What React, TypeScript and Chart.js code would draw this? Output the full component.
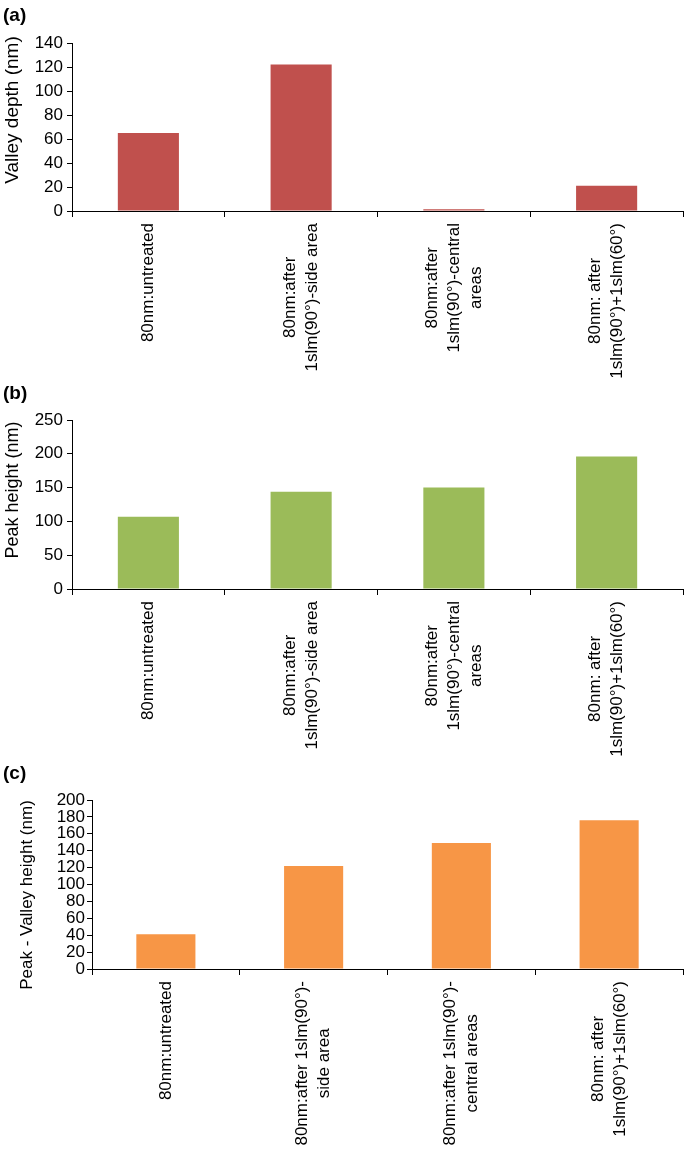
import React, { useEffect, useRef } from "react";
import { Chart, registerables } from "chart.js";

Chart.register(...registerables);

const labelsAB: (string | string[])[] = [
  "80nm:untreated",
  ["80nm:after", "1slm(90°)-side area"],
  ["80nm:after", "1slm(90°)-central", "areas"],
  ["80nm: after", "1slm(90°)+1slm(60°)"],
];
const labelsC: (string | string[])[] = [
  "80nm:untreated",
  ["80nm:after 1slm(90°)-", "side area"],
  ["80nm:after 1slm(90°)-", "central areas"],
  ["80nm: after", "1slm(90°)+1slm(60°)"],
];

const valleyDepth = [65, 122, 1.5, 21];
const peakHeight = [107, 144, 150, 196];
const peakValley = [41, 122, 149, 176];

const FONT = "'Liberation Sans', Arial, sans-serif";

type PanelCfg = {
  tag: string;
  labels: (string | string[])[];
  values: number[];
  color: string;
  yTitle: string;
  yTitleSize: number;
  yTitleX: number;
  yTitleY: number;
  yMax: number;
  yStep: number;
  top: number;
  height: number;
  padTop: number;
  axisLeft: number;
  xAxisHeight: number;
  tickPad: number;
  tickSize: number;
};

const panels: PanelCfg[] = [
  {
    tag: "(a)", labels: labelsAB, values: valleyDepth, color: "#C0504D",
    yTitle: "Valley depth (nm)", yTitleSize: 19, yTitleX: 13, yTitleY: 110, yMax: 140, yStep: 20,
    top: 0, height: 378, padTop: 43, axisLeft: 72, xAxisHeight: 167, tickPad: 4, tickSize: 17,
  },
  {
    tag: "(b)", labels: labelsAB, values: peakHeight, color: "#9BBB59",
    yTitle: "Peak height (nm)", yTitleSize: 18, yTitleX: 13, yTitleY: 112, yMax: 250, yStep: 50,
    top: 378, height: 380, padTop: 42, axisLeft: 72, xAxisHeight: 169, tickPad: 4, tickSize: 17,
  },
  {
    tag: "(c)", labels: labelsC, values: peakValley, color: "#F79646",
    yTitle: "Peak - Valley height (nm)", yTitleSize: 17, yTitleX: 27, yTitleY: 137, yMax: 200, yStep: 20,
    top: 758, height: 391, padTop: 42, axisLeft: 92, xAxisHeight: 180, tickPad: 2, tickSize: 17,
  },
];

const LINE_H = 22;
const LABEL_FONT = `17px ${FONT}`;

function Panel({ cfg }: { cfg: PanelCfg }) {
  const ref = useRef<HTMLCanvasElement | null>(null);
  useEffect(() => {
    if (!ref.current) return;
    const labelPlugin = {
      id: "customText",
      afterDraw(chart: any) {
        const ctx = chart.ctx as CanvasRenderingContext2D;
        const xs = chart.scales.x;
        ctx.save();
        ctx.fillStyle = "#000";
        // panel tag
        ctx.font = `bold 19px ${FONT}`;
        ctx.textAlign = "left";
        ctx.textBaseline = "top";
        ctx.fillText(cfg.tag, 3, 6);
        // y title
        ctx.save();
        ctx.font = `${cfg.yTitleSize}px ${FONT}`;
        ctx.textAlign = "center";
        ctx.textBaseline = "middle";
        ctx.translate(cfg.yTitleX, cfg.yTitleY);
        ctx.rotate(-Math.PI / 2);
        ctx.fillText(cfg.yTitle, 0, 0);
        ctx.restore();
        // x labels
        ctx.font = LABEL_FONT;
        ctx.textBaseline = "middle";
        ctx.textAlign = "center";
        const yTop = xs.top + 12;
        cfg.labels.forEach((lab, i) => {
          const lines = Array.isArray(lab) ? lab : [lab];
          const w = Math.max(...lines.map((l) => ctx.measureText(l).width));
          const x = xs.getPixelForValue(i);
          ctx.save();
          ctx.translate(x, yTop);
          ctx.rotate(-Math.PI / 2);
          lines.forEach((l, j) => {
            ctx.fillText(l, -w / 2, (j - (lines.length - 1) / 2) * LINE_H);
          });
          ctx.restore();
        });
        ctx.restore();
      },
    };
    const chart = new Chart(ref.current, {
      type: "bar",
      data: {
        labels: cfg.labels as any,
        datasets: [
          {
            data: cfg.values,
            backgroundColor: cfg.color,
            barPercentage: 0.4,
            categoryPercentage: 1,
          },
        ],
      },
      options: {
        animation: false,
        responsive: false,
        maintainAspectRatio: false,
        layout: { padding: { top: cfg.padTop, right: 2, left: 0, bottom: 0 } },
        plugins: { legend: { display: false }, tooltip: { enabled: false } },
        scales: {
          x: {
            grid: { offset: true, drawOnChartArea: false, drawTicks: true, tickLength: 6, color: "#000" },
            border: { color: "#000", width: 1 },
            ticks: { display: false },
            afterFit: (s: any) => { s.height = cfg.xAxisHeight; },
          },
          y: {
            min: 0,
            max: cfg.yMax,
            ticks: {
              stepSize: cfg.yStep,
              autoSkip: false,
              color: "#000",
              padding: cfg.tickPad,
              font: { family: FONT, size: cfg.tickSize },
            },
            grid: { drawOnChartArea: false, drawTicks: true, tickLength: 5, color: "#000" },
            border: { color: "#000", width: 1 },
            title: { display: false },
            afterFit: (s: any) => { s.width = cfg.axisLeft; },
          },
        },
      },
      plugins: [labelPlugin],
    });
    return () => chart.destroy();
  }, [cfg]);
  return (
    <canvas
      ref={ref}
      width={685}
      height={cfg.height}
      style={{ position: "absolute", left: 0, top: cfg.top, width: 685, height: cfg.height }}
    />
  );
}

export default function App() {
  return (
    <div style={{ position: "absolute", left: 0, top: 0, width: 685, height: 1149, background: "#fff" }}>
      {panels.map((p) => (
        <Panel key={p.tag} cfg={p} />
      ))}
    </div>
  );
}
